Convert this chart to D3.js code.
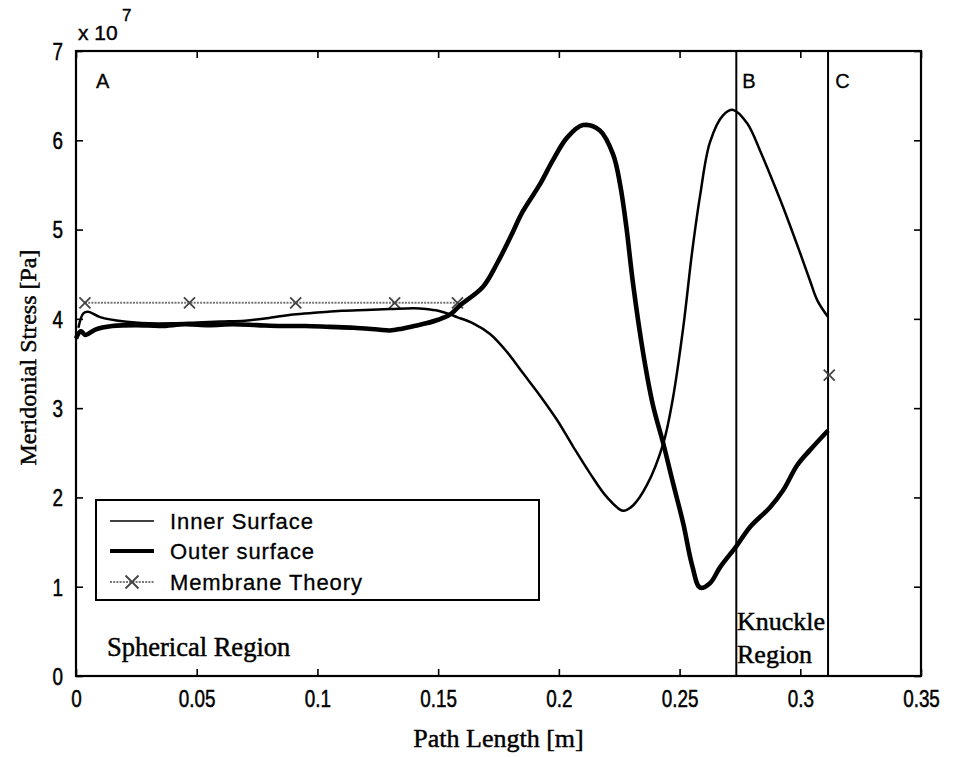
<!DOCTYPE html>
<html><head><meta charset="utf-8">
<script src="https://cdn.jsdelivr.net/npm/d3@7/dist/d3.min.js"></script>
<style>
body{margin:0;background:#fff;}
svg{display:block;}
.sans{font-family:"Liberation Sans",Arial,sans-serif;}
.serif{font-family:"Liberation Serif","Times New Roman",serif;}
</style></head>
<body>
<svg id="chart" width="958" height="757"></svg>
<script>
// ---- data (stress in units of 1e7 Pa) ----
const xTicks = [0, 0.05, 0.1, 0.15, 0.2, 0.25, 0.3, 0.35];
const xTickLabels = ["0", "0.05", "0.1", "0.15", "0.2", "0.25", "0.3", "0.35"];
const yTicks = [0, 1, 2, 3, 4, 5, 6, 7];
const yTickLabels = ["0", "1", "2", "3", "4", "5", "6", "7"];

const innerX = [0.001, 0.003, 0.005, 0.010, 0.020, 0.030, 0.040, 0.050, 0.060, 0.070, 0.080, 0.090, 0.100, 0.110, 0.120, 0.130, 0.140, 0.145, 0.150, 0.155,
  0.1578, 0.1645, 0.1715, 0.1785, 0.1852, 0.1922, 0.1992, 0.2059, 0.2129, 0.2200, 0.2266, 0.2307, 0.2365, 0.2432, 0.2473, 0.2515, 0.2552, 0.2585, 0.2626, 0.2680, 0.2722, 0.2780, 0.2834, 0.2862, 0.2929, 0.2999, 0.3040, 0.3070, 0.3115];
const innerY = [3.90, 4.06, 4.08, 4.02, 3.97, 3.95, 3.95, 3.96, 3.97, 3.98, 4.01, 4.05, 4.07, 4.09, 4.10, 4.11, 4.12, 4.11, 4.09, 4.05,
  4.02, 3.95, 3.83, 3.63, 3.39, 3.14, 2.87, 2.57, 2.27, 2.00, 1.85, 1.91, 2.14, 2.60, 3.12, 3.90, 4.75, 5.38, 5.98, 6.28, 6.34, 6.19, 5.88, 5.70, 5.25, 4.74, 4.43, 4.21, 4.02];

const outerX = [0.000, 0.002, 0.004, 0.008, 0.015, 0.025, 0.035, 0.045, 0.055, 0.065, 0.075, 0.085, 0.095, 0.105, 0.115, 0.125, 0.130, 0.135, 0.140, 0.145, 0.150, 0.155,
  0.1590, 0.1686, 0.1744, 0.1800, 0.1850, 0.1920, 0.1976, 0.2034, 0.2100, 0.2170, 0.2225, 0.2254, 0.2280, 0.2307, 0.2349, 0.2390, 0.2432, 0.2473, 0.2515, 0.2552, 0.2585, 0.2626, 0.2668, 0.2734, 0.2792, 0.2875, 0.2929, 0.2987, 0.3040, 0.3115];
const outerY = [3.78, 3.86, 3.82, 3.88, 3.92, 3.93, 3.92, 3.94, 3.93, 3.94, 3.93, 3.92, 3.92, 3.91, 3.90, 3.88, 3.87, 3.89, 3.92, 3.95, 3.99, 4.05,
  4.15, 4.36, 4.62, 4.92, 5.20, 5.50, 5.78, 6.03, 6.17, 6.11, 5.84, 5.50, 5.02, 4.40, 3.62, 3.03, 2.61, 2.16, 1.71, 1.24, 0.99, 1.04, 1.22, 1.45, 1.67, 1.89, 2.08, 2.36, 2.53, 2.75];

const membraneX = [0.0037, 0.047, 0.091, 0.132, 0.158];
const membraneY = [4.18, 4.18, 4.18, 4.18, 4.18];
const knuckleMembraneX = [0.312];
const knuckleMembraneY = [3.37];

const regionLinesX = [0.2735, 0.3115];
const regionLetters = ["A", "B", "C"];
const regionLetterX = [0.007, 0.276, 0.3145];
const legendLabels = ["Inner Surface", "Outer surface", "Membrane Theory"];

// ---- layout ----
const L = 76, R = 921, T = 51, B = 676;
const svg = d3.select("#chart");
const x = d3.scaleLinear().domain([0, 0.35]).range([L, R]);
const y = d3.scaleLinear().domain([0, 7]).range([B, T]);

// axes
const tickLen = 7;
const axB = svg.append("g").attr("transform", `translate(0,${B})`)
  .call(d3.axisBottom(x).tickValues(xTicks).tickSize(-tickLen).tickPadding(tickLen + 8).tickFormat((d, i) => xTickLabels[i]));
const axL = svg.append("g").attr("transform", `translate(${L},0)`)
  .call(d3.axisLeft(y).tickValues(yTicks).tickSize(-tickLen).tickPadding(tickLen + 6).tickFormat((d, i) => yTickLabels[i]));
const axT = svg.append("g").attr("transform", `translate(0,${T})`)
  .call(d3.axisTop(x).tickValues(xTicks).tickSize(-tickLen).tickFormat(""));
const axR = svg.append("g").attr("transform", `translate(${R},0)`)
  .call(d3.axisRight(y).tickValues(yTicks).tickSize(-tickLen).tickFormat(""));
[axB, axL, axT, axR].forEach(g => {
  g.select(".domain").remove();
  g.selectAll(".tick line").attr("stroke", "#000").attr("stroke-width", 1.6);
  g.selectAll(".tick text").attr("class", "sans").attr("font-size", 23).attr("fill", "#000")
    .attr("stroke", "#000").attr("stroke-width", 0.5);
});
axB.selectAll(".tick text").attr("transform", "scale(0.82,1)");
axL.selectAll(".tick text").attr("dy", "0.36em").attr("x", -13 / 0.82).attr("transform", "scale(0.82,1)");

// frame
svg.append("rect").attr("x", L).attr("y", T).attr("width", R - L).attr("height", B - T)
  .attr("fill", "none").attr("stroke", "#000").attr("stroke-width", 2.2);

// region lines
svg.selectAll(".rline").data(regionLinesX).enter().append("line")
  .attr("x1", d => x(d)).attr("x2", d => x(d)).attr("y1", T).attr("y2", B)
  .attr("stroke", "#000").attr("stroke-width", 2);

// membrane theory
const memPts = membraneX.map((d, i) => [d, membraneY[i]]);
svg.append("path").datum(memPts)
  .attr("d", d3.line().x(d => x(d[0])).y(d => y(d[1])))
  .attr("fill", "none").attr("stroke", "#777").attr("stroke-width", 2).attr("stroke-dasharray", "2,1.2");
const allMem = memPts.concat(knuckleMembraneX.map((d, i) => [d, knuckleMembraneY[i]]));
const xMark = (g, cx, cy, s) => {
  g.append("path").attr("d", `M${cx - s},${cy - s}L${cx + s},${cy + s}M${cx - s},${cy + s}L${cx + s},${cy - s}`)
    .attr("stroke", "#444").attr("stroke-width", 1.8).attr("fill", "none");
};
allMem.forEach(d => xMark(svg, x(d[0]), y(d[1]), 5.5));

// surfaces
const line = d3.line().x(d => x(d[0])).y(d => y(d[1])).curve(d3.curveCatmullRom.alpha(0.5));
svg.append("path").datum(innerX.map((d, i) => [d, innerY[i]]))
  .attr("d", line).attr("fill", "none").attr("stroke", "#000").attr("stroke-width", 2.5).attr("stroke-linejoin", "round");
svg.append("path").datum(outerX.map((d, i) => [d, outerY[i]]))
  .attr("d", line).attr("fill", "none").attr("stroke", "#000").attr("stroke-width", 4.6).attr("stroke-linejoin", "round");

// region letters
svg.selectAll(".rl").data(regionLetters).enter().append("text")
  .attr("class", "sans").attr("x", (d, i) => x(regionLetterX[i]) + (i === 0 ? 3 : 0)).attr("y", 88)
  .attr("font-size", 20).attr("stroke", "#000").attr("stroke-width", 0.3).text(d => d);

// exponent label
svg.append("text").attr("class", "sans").attr("x", 78).attr("y", 40).attr("font-size", 21)
  .attr("stroke", "#000").attr("stroke-width", 0.4).text("x 10");
svg.append("text").attr("class", "sans").attr("x", 122).attr("y", 21).attr("font-size", 17)
  .attr("stroke", "#000").attr("stroke-width", 0.4).text("7");

// region text
const serifText = (tx, ty, size, str) => svg.append("text").attr("class", "serif").attr("x", tx).attr("y", ty)
  .attr("font-size", size).attr("stroke", "#000").attr("stroke-width", 0.45).text(str);
serifText(107, 656, 26.5, "Spherical Region");
serifText(737, 630, 26, "Knuckle");
serifText(737, 663, 26, "Region");

// axis titles
serifText((L + R) / 2, 747, 26, "Path Length [m]").attr("text-anchor", "middle");
svg.append("text").attr("class", "serif").attr("transform", `translate(36,${(T + B) / 2 - 6}) rotate(-90)`)
  .attr("text-anchor", "middle").attr("font-size", 24).attr("stroke", "#000").attr("stroke-width", 0.45)
  .text("Meridonial Stress [Pa]");

// legend
const lg = svg.append("g");
lg.append("rect").attr("x", 96).attr("y", 500).attr("width", 443).attr("height", 100)
  .attr("fill", "#fff").attr("stroke", "#000").attr("stroke-width", 2);
const legY = [521, 551, 582];
const legW = [1.4, 4.2, 1.8];
legendLabels.forEach((lab, i) => {
  const ln = lg.append("line").attr("x1", 110).attr("x2", 154).attr("y1", legY[i]).attr("y2", legY[i])
    .attr("stroke", i === 2 ? "#777" : "#000").attr("stroke-width", legW[i]);
  if (i === 2) { ln.attr("stroke-dasharray", "2,1.2"); xMark(lg, 132, legY[i], 6.5); }
  lg.append("text").attr("font-family", "'Liberation Sans', Arial, sans-serif").attr("x", 170).attr("y", legY[i] + 8)
    .attr("font-size", 22).attr("letter-spacing", 0.9).attr("stroke", "#000").attr("stroke-width", 0.3).text(lab);
});
</script>
</body></html>
